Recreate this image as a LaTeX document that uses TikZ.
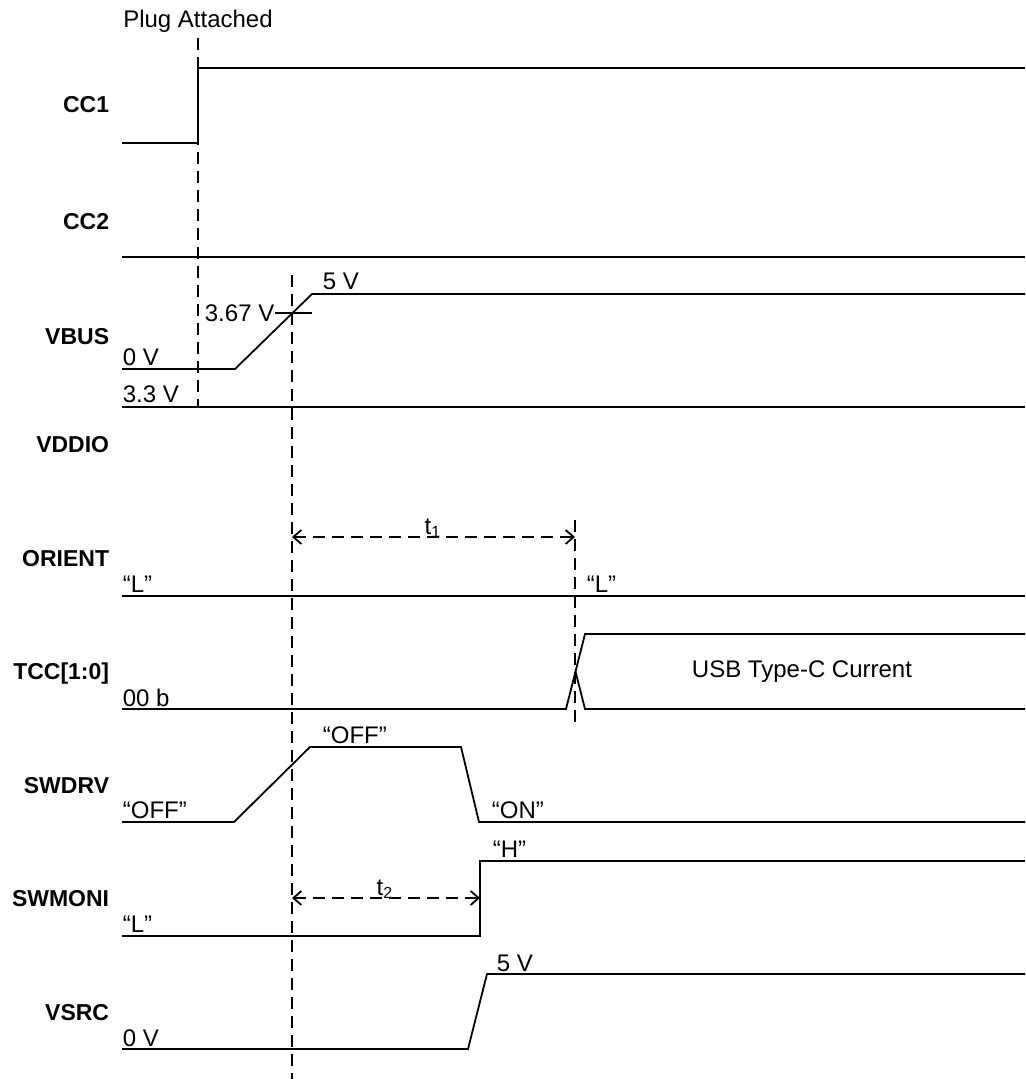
\documentclass[tikz,border=0pt]{standalone}
\usepackage{fontspec}
\setmainfont{Liberation Sans}
\usepackage{tikz}
\usetikzlibrary{arrows.meta, positioning}

\begin{document}
\begin{tikzpicture}[x=0.5pt, y=-0.5pt, line width=0.9pt,
    every node/.style={font=\fontsize{12}{14}\selectfont, inner sep=0pt},
    signame/.style={font=\fontsize{11.5}{14}\selectfont\bfseries, anchor=base east},
    level/.style={anchor=base west},
    guide/.style={dash pattern=on 6pt off 3.5pt},
    span/.style={dash pattern=on 6pt off 3.5pt, {Straight Barb[length=4pt,width=7pt]}-{Straight Barb[length=4pt,width=7pt]}}]
    \useasboundingbox (0,0) rectangle (1025,1079);

    % signal names
    \node (CCone) [signame] at (110,113) {CC1};
    \node (CCtwo) [signame] at (110,230) {CC2};
    \node (Vbus) [signame] at (110,344) {VBUS};
    \node (Vddio) [signame] at (110,452) {VDDIO};
    \node (Orient) [signame] at (110,566) {ORIENT};
    \node (Tcc) [signame] at (110,679) {TCC[1:0]};
    \node (Swdrv) [signame] at (110,793) {SWDRV};
    \node (Swmoni) [signame] at (110,906) {SWMONI};
    \node (Vsrc) [signame] at (110,1020) {VSRC};

    % guide lines
    \coordinate (PlugTop) at (198,38);
    \coordinate (PlugBot) at (198,407);
    \coordinate (VthTop) at (292,275);
    \coordinate (VthBot) at (292,1079);
    \coordinate (OrTop) at (575,520);
    \coordinate (OrBot) at (575,722);
    \draw[guide] (PlugTop) -- (PlugBot);
    \draw[guide] (VthTop) -- (VthBot);
    \draw[guide] (OrTop) -- (OrBot);
    \node (Plug) [above=2.5pt of PlugTop] {Plug Attached};

    % CC1, CC2
    \draw (122,143) -- (198,143) -- (198,68) -- (1025,68);
    \draw (122,257) -- (1025,257);

    % VBUS
    \draw (122,369) -- (235,369) -- (312,294) -- (1025,294);
    \draw (275,313) -- (312,313);
    \node (VbusLow) [level] at (122,365) {0 V};
    \node (VbusHigh) [level] at (322,290) {5 V};
    \node (VbusTh) [level] at (204,322) {3.67 V};

    % VDDIO
    \draw (122,407) -- (1025,407);
    \node (VddioLvl) [level] at (122,402) {3.3 V};

    % ORIENT
    \draw (122,596) -- (1025,596);
    \node (OrientA) [level] at (122,592) {“L”};
    \node (OrientB) [level] at (586,592) {“L”};
    \coordinate (TaStart) at (292,537);
    \coordinate (TaEnd) at (575,537);
    \draw[span] (TaStart) -- (TaEnd);
    \node (Ta) [anchor=base] at (433,534) {t\textsubscript{1}};

    % TCC[1:0]
    \draw (122,709) -- (566,709) -- (585,634) -- (1025,634);
    \draw (575.5,671.5) -- (585,709) -- (1025,709);
    \node (TccLow) [level] at (122,706) {00 b};
    \node (TccCur) at (802,672) {USB Type-C Current};

    % SWDRV
    \draw (122,822) -- (234,822) -- (310,747) -- (461,747) -- (479,822) -- (1025,822);
    \node (SwdrvA) [level] at (122,818) {“OFF”};
    \node (SwdrvB) [level] at (322,743) {“OFF”};
    \node (SwdrvC) [level] at (491,818) {“ON”};

    % SWMONI
    \draw (122,936) -- (480,936) -- (480,861) -- (1025,861);
    \node (SwmoniA) [level] at (122,932) {“L”};
    \node (SwmoniB) [level] at (492,857) {“H”};
    \coordinate (TbStart) at (292,898);
    \coordinate (TbEnd) at (480,898);
    \draw[span] (TbStart) -- (TbEnd);
    \node (Tb) [anchor=base] at (385,895) {t\textsubscript{2}};

    % VSRC
    \draw (122,1049) -- (468,1049) -- (487,974) -- (1025,974);
    \node (VsrcLow) [level] at (122,1046) {0 V};
    \node (VsrcHigh) [level] at (496,971) {5 V};
\end{tikzpicture}
\end{document}
